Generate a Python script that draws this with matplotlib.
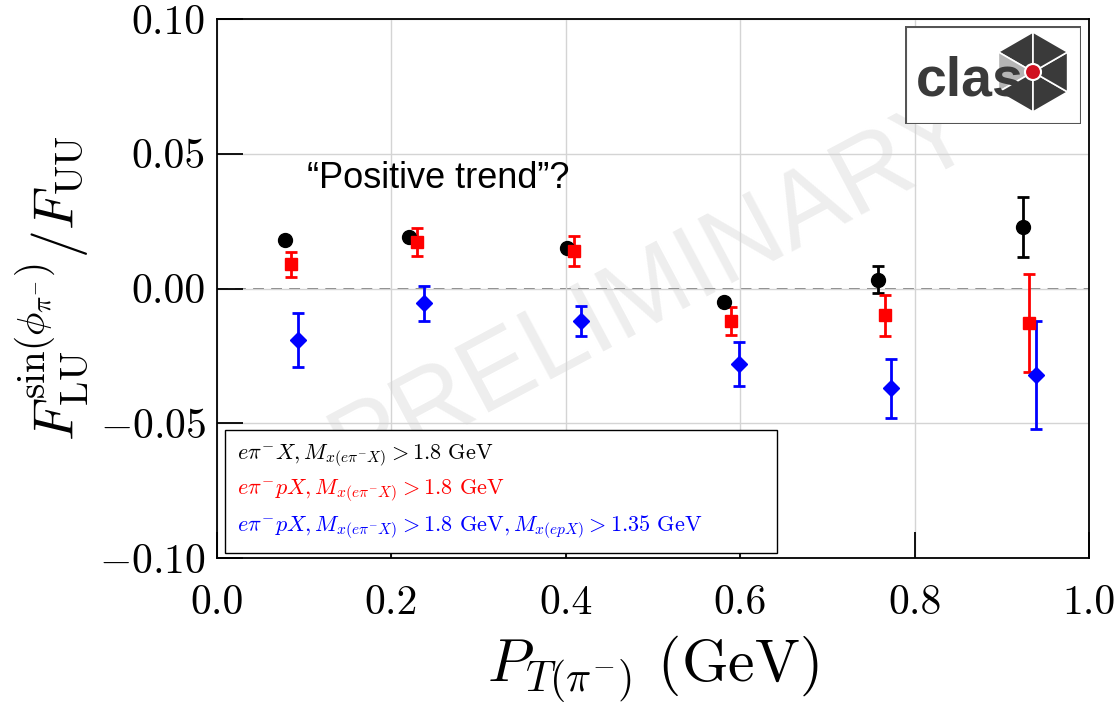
import matplotlib
matplotlib.use("Agg")
import matplotlib.pyplot as plt
import matplotlib.patches as mpatches
from matplotlib.lines import Line2D
import numpy as np

# data
pt_all = [0.078, 0.220, 0.401, 0.581, 0.758, 0.924]
asym_all = [0.0180, 0.0190, 0.0150, -0.0050, 0.0032, 0.0228]
err_all = [0.0008, 0.0008, 0.0008, 0.0012, 0.0050, 0.0110]

pt_p = [0.085, 0.229, 0.409, 0.589, 0.766, 0.931]
asym_p = [0.0090, 0.0173, 0.0139, -0.0120, -0.0099, -0.0128]
err_p = [0.0046, 0.0052, 0.0054, 0.0051, 0.0076, 0.0180]

pt_pc = [0.093, 0.237, 0.417, 0.599, 0.773, 0.939]
asym_pc = [-0.0190, -0.0054, -0.0120, -0.0280, -0.0370, -0.0320]
err_pc = [0.0100, 0.0065, 0.0056, 0.0081, 0.0110, 0.0200]

labels = [
    r"$e\pi^{-}X, M_{x(e\pi^{-}X)} > 1.8$ GeV",
    r"$e\pi^{-}pX, M_{x(e\pi^{-}X)} > 1.8$ GeV",
    r"$e\pi^{-}pX, M_{x(e\pi^{-}X)} > 1.8$ GeV$, M_{x(epX)} > 1.35$ GeV",
]

plt.rcParams["font.family"] = "serif"
plt.rcParams["font.serif"] = ["cmr10"]
plt.rcParams["mathtext.fontset"] = "cm"
plt.rcParams["axes.formatter.use_mathtext"] = True

fig = plt.figure(figsize=(11.18, 7.11), dpi=100)
ax = fig.add_axes([217 / 1118, 153 / 711, 872 / 1118, 539 / 711])

ax.grid(True, color="#d4d4d4", linewidth=1.0, zorder=0)
ax.axhline(0, color="#777777", linestyle="--", linewidth=1.3, dashes=(6, 4), zorder=1)

ax.text(0.5, 0.5, "PRELIMINARY", transform=ax.transAxes, rotation=28,
        fontsize=76, color="#eeeeee", family="Liberation Sans",
        ha="center", va="center", zorder=0.5)

styles = [("black", "o", 10), ("red", "s", 8), ("blue", "D", 8)]
series = [(pt_all, asym_all, err_all), (pt_p, asym_p, err_p), (pt_pc, asym_pc, err_pc)]
for (x, y, e), (c, m, ms) in zip(series, styles):
    ax.errorbar(x, y, yerr=e, fmt=m, color=c, markersize=ms, elinewidth=2,
                capsize=4, capthick=2, zorder=3)

ax.set_xlim(0, 1.0)
ax.set_ylim(-0.10, 0.10)
ax.set_xticks([0.0, 0.2, 0.4, 0.6, 0.8, 1.0])
ax.set_yticks([-0.10, -0.05, 0.0, 0.05, 0.10])
ax.xaxis.set_major_formatter(matplotlib.ticker.FormatStrFormatter("%.1f"))
ax.yaxis.set_major_formatter(matplotlib.ticker.FuncFormatter(
    lambda v, p: ("$-$" if v < -1e-9 else "") + "%.2f" % abs(v)))
ax.tick_params(direction="in", length=19, width=1.3, labelsize=30)
ax.tick_params(axis="x", pad=19)
ax.tick_params(axis="y", pad=8)
for s in ax.spines.values():
    s.set_linewidth(1.3)

ax.set_xlabel(r"$P_{T(\pi^{-})}$ (GeV)", fontsize=43, labelpad=8)
ax.set_ylabel(r"$F_{\mathrm{LU}}^{\sin(\phi_{\pi^{-}})}/F_{\mathrm{UU}}$", fontsize=40, labelpad=6)

ax.text(0.103, 0.705, "\u201cPositive trend\u201d?", transform=ax.transAxes,
        fontsize=26, family="Liberation Sans", ha="left", va="center", zorder=4)

proxies = [Line2D([], [], linestyle="none") for _ in labels]
leg = ax.legend(proxies, labels, loc="lower left", bbox_to_anchor=(0.009, 0.009, 0.633, 0.226),
                mode="expand", fontsize=16, handlelength=0, handletextpad=0,
                fancybox=False, framealpha=1, edgecolor="black", labelspacing=0.42,
                borderpad=0.53, borderaxespad=0)
leg.get_frame().set_linewidth(1.0)
for t, (c, _, _) in zip(leg.get_texts(), styles):
    t.set_color(c)

# CLAS logo
lax = fig.add_axes([905 / 1118, (711 - 124) / 711, 176 / 1118, 98 / 711])
lax.set_xlim(0, 176)
lax.set_ylim(0, 98)
lax.axis("off")
lax.add_patch(mpatches.Rectangle((0.5, 0.5), 175, 97, fill=True, facecolor="white",
                                 edgecolor="#555555", linewidth=1.5))
cx, cy, r = 128, 52, 40
ang = np.deg2rad(90 + 60 * np.arange(7))
vx, vy = cx + r * np.cos(ang), cy + r * np.sin(ang)
for i in range(6):
    col = "#b5b5b5" if i == 1 else "#3a3a3a"
    lax.add_patch(mpatches.Polygon([[cx, cy], [vx[i], vy[i]], [vx[i + 1], vy[i + 1]]],
                                   closed=True, facecolor=col, edgecolor="white", linewidth=1.2))
lax.text(11, 43, "clas", fontsize=40, color="#3a3a3a", family="Liberation Sans",
         fontweight="bold", ha="left", va="center")
lax.add_patch(mpatches.Circle((cx, cy), 8, facecolor="#d01020", edgecolor="white", linewidth=1.5))

fig.savefig("out.png", dpi=100)
